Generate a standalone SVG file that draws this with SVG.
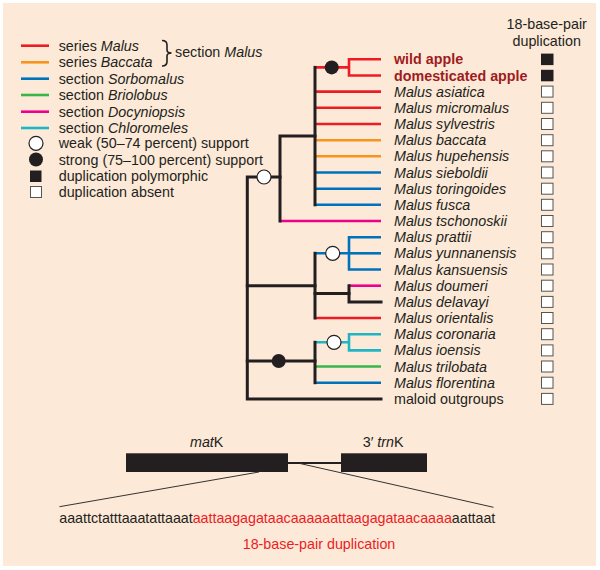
<svg xmlns="http://www.w3.org/2000/svg" width="600" height="570" viewBox="0 0 600 570">
<style>
text{font-family:"Liberation Sans",Arial,sans-serif;font-size:14.3px;fill:#231F20}
.it{font-style:italic}
.b{stroke:#231F20;stroke-width:3;fill:none;stroke-linecap:square}
.c{stroke-width:2.6;fill:none}
.red{stroke:#ED1C24}.org{stroke:#F7941D}.blu{stroke:#0072BC}.grn{stroke:#39B54A}.pnk{stroke:#EC008C}.cyn{stroke:#1FB5C5}
.wc{fill:#fff;stroke:#231F20;stroke-width:1.2}
.fc{fill:#231F20}
.eb{fill:#fff;stroke:#555;stroke-width:1}
.fb{fill:#231F20}
.dr{fill:#9E1B20;font-weight:bold}
.rt{fill:#ED1C24}
</style>
<rect x="3" y="3" width="593" height="563" fill="#FCE9D7"/>

<g id="legend">
<line class="c red" x1="21" y1="45.7" x2="49" y2="45.7"/>
<line class="c org" x1="21" y1="62.3" x2="49" y2="62.3"/>
<line class="c blu" x1="21" y1="78.7" x2="49" y2="78.7"/>
<line class="c grn" x1="21" y1="95" x2="49" y2="95"/>
<line class="c pnk" x1="21" y1="111.7" x2="49" y2="111.7"/>
<line class="c cyn" x1="21" y1="128" x2="49" y2="128"/>
<circle class="wc" cx="36" cy="143.3" r="7"/>
<circle class="fc" cx="36" cy="159.5" r="7"/>
<rect class="fb" x="30" y="170.5" width="11.5" height="11.5"/>
<rect class="eb" x="30.5" y="186.5" width="11" height="11"/>
<text x="58.7" y="50.7">series <tspan class="it">Malus</tspan></text>
<text x="58.7" y="67.3">series <tspan class="it">Baccata</tspan></text>
<text x="58.7" y="83.7">section <tspan class="it">Sorbomalus</tspan></text>
<text x="58.7" y="100">section <tspan class="it">Briolobus</tspan></text>
<text x="58.7" y="116.7">section <tspan class="it">Docyniopsis</tspan></text>
<text x="58.7" y="133">section <tspan class="it">Chloromeles</tspan></text>
<text x="58.7" y="148.3">weak (50–74 percent) support</text>
<text x="58.7" y="164.5">strong (75–100 percent) support</text>
<text x="58.7" y="181">duplication polymorphic</text>
<text x="58.7" y="197">duplication absent</text>
<path d="M162,40.5 Q167,40.5 167,45 L167,50 Q167,53 171.5,53 Q167,53 167,56 L167,61.5 Q167,66 162,66" fill="none" stroke="#231F20" stroke-width="1.6"/>
<text x="175" y="57.3">section <tspan class="it">Malus</tspan></text>
</g>

<g id="connectors">
<polyline class="c red" points="315,67.4 349,67.4"/>
<polyline class="c red" points="381,59.3 349,59.3 349,75.5 381,75.5" stroke-width="3"/>
<line class="c red" x1="315" y1="91.6" x2="381" y2="91.6"/>
<line class="c red" x1="315" y1="107.8" x2="381" y2="107.8"/>
<line class="c red" x1="315" y1="124" x2="381" y2="124"/>
<line class="c org" x1="315" y1="140.2" x2="381" y2="140.2"/>
<line class="c org" x1="315" y1="156.3" x2="381" y2="156.3"/>
<line class="c blu" x1="315" y1="172.5" x2="381" y2="172.5"/>
<line class="c blu" x1="315" y1="188.7" x2="381" y2="188.7"/>
<line class="c blu" x1="315" y1="204.8" x2="381" y2="204.8"/>
<line class="c pnk" x1="280" y1="221" x2="381" y2="221"/>
<line class="c blu" x1="315" y1="253.3" x2="349" y2="253.3"/>
<polyline class="c blu" points="381,237.2 349,237.2 349,269.5 381,269.5"/>
<line class="c blu" x1="349" y1="253.3" x2="381" y2="253.3"/>
<line class="c pnk" x1="349" y1="285.7" x2="381" y2="285.7"/>
<line class="c red" x1="315" y1="318" x2="381" y2="318" stroke-width="3.2"/>
<line class="c cyn" x1="315" y1="342.3" x2="349" y2="342.3"/>
<polyline class="c cyn" points="381,334.2 349,334.2 349,350.4 381,350.4"/>
<line class="c grn" x1="315" y1="366.5" x2="381" y2="366.5"/>
<line class="c blu" x1="315" y1="382.7" x2="381" y2="382.7"/>
<line class="b" x1="315" y1="67.4" x2="315" y2="204.8"/>
<polyline class="b" points="315,136 280,136 280,221"/>
<polyline class="b" points="280,177 247.3,177 247.3,398.9 381,398.9"/>
<line class="b" x1="247.3" y1="285.7" x2="315" y2="285.7"/>
<line class="b" x1="315" y1="253.3" x2="315" y2="318"/>
<polyline class="b" points="315,293.5 349,293.5"/>
<polyline class="b" points="349,285.7 349,301.9 381,301.9"/>
<line class="b" x1="247.3" y1="361" x2="315" y2="361"/>
<line class="b" x1="315" y1="342.3" x2="315" y2="382.7"/>
<circle class="fc" cx="331.7" cy="67.4" r="7"/>
<circle class="wc" cx="264" cy="177" r="7"/>
<circle class="wc" cx="332.7" cy="253.3" r="7"/>
<circle class="fc" cx="278.7" cy="361" r="7"/>
<circle class="wc" cx="334" cy="342.3" r="7"/>
</g>

<g id="taxa">
<text class="dr" x="394" y="64.3">wild apple</text>
<text class="dr" x="394" y="80.5">domesticated apple</text>
<text class="it" x="394" y="96.6">Malus asiatica</text>
<text class="it" x="394" y="112.8">Malus micromalus</text>
<text class="it" x="394" y="129">Malus sylvestris</text>
<text class="it" x="394" y="145.2">Malus baccata</text>
<text class="it" x="394" y="161.3">Malus hupehensis</text>
<text class="it" x="394" y="177.5">Malus sieboldii</text>
<text class="it" x="394" y="193.7">Malus toringoides</text>
<text class="it" x="394" y="209.8">Malus fusca</text>
<text class="it" x="394" y="226">Malus tschonoskii</text>
<text class="it" x="394" y="242.2">Malus prattii</text>
<text class="it" x="394" y="258.3">Malus yunnanensis</text>
<text class="it" x="394" y="274.5">Malus kansuensis</text>
<text class="it" x="394" y="290.7">Malus doumeri</text>
<text class="it" x="394" y="306.9">Malus delavayi</text>
<text class="it" x="394" y="323">Malus orientalis</text>
<text class="it" x="394" y="339.2">Malus coronaria</text>
<text class="it" x="394" y="355.4">Malus ioensis</text>
<text class="it" x="394" y="371.5">Malus trilobata</text>
<text class="it" x="394" y="387.7">Malus florentina</text>
<text x="394" y="403.9">maloid outgroups</text>
</g>

<g id="duplication-column">
<text x="546.7" y="29" text-anchor="middle">18-base-pair</text>
<text x="546.7" y="45.5" text-anchor="middle">duplication</text>
<rect class="fb" x="541" y="53.6" width="12.5" height="11.5"/>
<rect class="fb" x="541" y="69.8" width="12.5" height="11.5"/>
<rect class="eb" x="541.5" y="86.1" width="11.5" height="11"/>
<rect class="eb" x="541.5" y="102.3" width="11.5" height="11"/>
<rect class="eb" x="541.5" y="118.5" width="11.5" height="11"/>
<rect class="eb" x="541.5" y="134.7" width="11.5" height="11"/>
<rect class="eb" x="541.5" y="150.8" width="11.5" height="11"/>
<rect class="eb" x="541.5" y="167" width="11.5" height="11"/>
<rect class="eb" x="541.5" y="183.2" width="11.5" height="11"/>
<rect class="eb" x="541.5" y="199.3" width="11.5" height="11"/>
<rect class="eb" x="541.5" y="215.5" width="11.5" height="11"/>
<rect class="eb" x="541.5" y="231.7" width="11.5" height="11"/>
<rect class="eb" x="541.5" y="247.8" width="11.5" height="11"/>
<rect class="eb" x="541.5" y="264" width="11.5" height="11"/>
<rect class="eb" x="541.5" y="280.2" width="11.5" height="11"/>
<rect class="eb" x="541.5" y="296.4" width="11.5" height="11"/>
<rect class="eb" x="541.5" y="312.5" width="11.5" height="11"/>
<rect class="eb" x="541.5" y="328.7" width="11.5" height="11"/>
<rect class="eb" x="541.5" y="344.9" width="11.5" height="11"/>
<rect class="eb" x="541.5" y="361" width="11.5" height="11"/>
<rect class="eb" x="541.5" y="377.2" width="11.5" height="11"/>
<rect class="eb" x="541.5" y="393.4" width="11.5" height="11"/>
</g>

<g id="gene-map">
<rect class="fb" x="126" y="453.3" width="162" height="18.7"/>
<rect class="fb" x="341" y="453.3" width="86" height="18.7"/>
<line x1="288" y1="463" x2="341" y2="463" stroke="#231F20" stroke-width="2.2"/>
<line x1="259" y1="472" x2="59.5" y2="506.7" stroke="#333" stroke-width="1"/>
<line x1="300" y1="463.5" x2="493.5" y2="507.3" stroke="#333" stroke-width="1"/>
<text x="190" y="447"><tspan class="it">mat</tspan>K</text>
<text x="362.7" y="447">3′ <tspan class="it">trn</tspan>K</text>
<text x="59.3" y="522.5" textLength="436" lengthAdjust="spacing">aaattctatttaaatattaaat<tspan class="rt">aattaagagataacaaaaaattaagagataacaaaa</tspan>aattaat</text>
<text class="rt" x="319" y="549" text-anchor="middle">18-base-pair duplication</text>
</g>
</svg>
